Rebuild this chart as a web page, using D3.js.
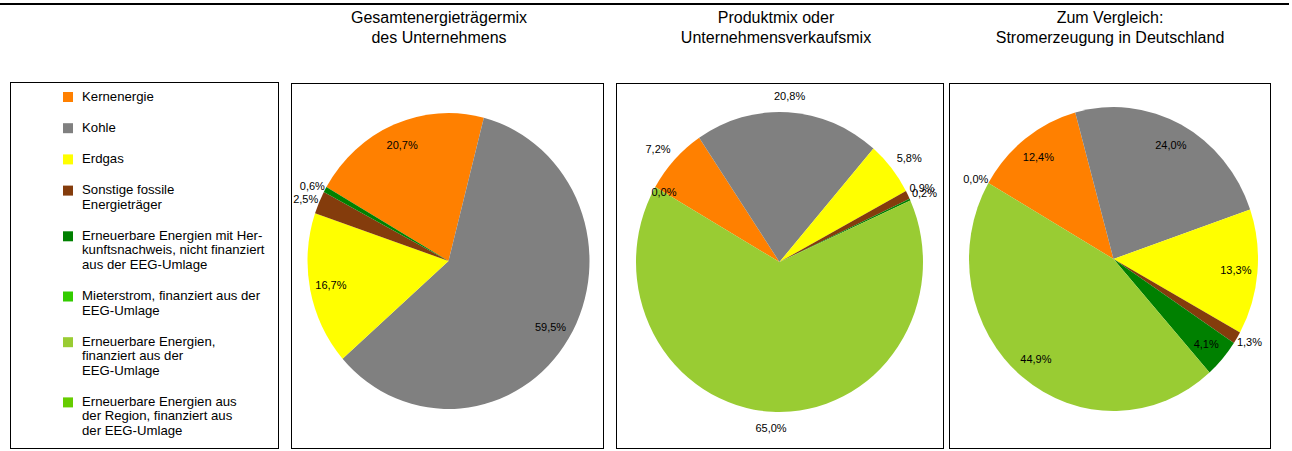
<!DOCTYPE html>
<html>
<head>
<meta charset="utf-8">
<script src="https://cdn.jsdelivr.net/npm/d3@7"></script>
<style>
  body { margin: 0; background: #fff; }
  svg { display: block; font-family: "Liberation Sans", Arial, sans-serif; }
</style>
</head>
<body>
<svg width="1292" height="451"></svg>
<script>
var categories = [
  "Kernenergie",
  "Kohle",
  "Erdgas",
  "Sonstige fossile Energieträger",
  "Erneuerbare Energien mit Herkunftsnachweis, nicht finanziert aus der EEG-Umlage",
  "Mieterstrom, finanziert aus der EEG-Umlage",
  "Erneuerbare Energien, finanziert aus der EEG-Umlage",
  "Erneuerbare Energien aus der Region, finanziert aus der EEG-Umlage"
];
var legendLines = [
  ["Kernenergie"],
  ["Kohle"],
  ["Erdgas"],
  ["Sonstige fossile", "Energieträger"],
  ["Erneuerbare Energien mit Her-", "kunftsnachweis, nicht finanziert", "aus der EEG-Umlage"],
  ["Mieterstrom, finanziert aus der", "EEG-Umlage"],
  ["Erneuerbare Energien,", "finanziert aus der", "EEG-Umlage"],
  ["Erneuerbare Energien aus", "der Region, finanziert aus", "der EEG-Umlage"]
];
var colors = ["#ff8000", "#808080", "#ffff00", "#843c0c", "#008000", "#33cc00", "#99cc33", "#66cc00"];

// values in percent, null = no entry
var gesamtValues = [20.7, 59.5, 16.7, 2.5, 0.6, null, null, null];
var produktValues = [7.2, 20.8, 5.8, 0.9, 0.2, null, 65.0, 0.0];
var deutschlandValues = [12.4, 24.0, 13.3, 1.3, 4.1, null, 44.9, 0.0];

var titles = [
  ["Gesamtenergieträgermix", "des Unternehmens"],
  ["Produktmix oder", "Unternehmensverkaufsmix"],
  ["Zum Vergleich:", "Stromerzeugung in Deutschland"]
];

var panels = [
  { values: gesamtValues, x0: 291, x1: 603, tx: 439, cx: 448.5, cy: 261, rx: 141, ry: 148, outside: false },
  { values: produktValues, x0: 616, x1: 943, tx: 776, cx: 779.5, cy: 262, rx: 143.5, ry: 150, outside: true },
  { values: deutschlandValues, x0: 949, x1: 1270, tx: 1110, cx: 1113.5, cy: 259, rx: 144.5, ry: 152, outside: false }
];

var svg = d3.select("svg");
var pct = d3.formatLocale({ decimal: ",", thousands: ".", grouping: [3], currency: ["", "€"] }).format(".1f");

// top rule
svg.append("line")
  .attr("x1", 0).attr("x2", 1289)
  .attr("y1", 4).attr("y2", 4)
  .attr("stroke", "#000")
  .attr("stroke-width", 2);

// legend
var lg = svg.append("g");
lg.append("rect")
  .attr("x", 10.5).attr("y", 82.5)
  .attr("width", 268).attr("height", 366)
  .attr("fill", "#fff")
  .attr("stroke", "#000");

var ly = 100.5;
legendLines.forEach(function (lines, i) {
  lg.append("rect")
    .attr("x", 63).attr("y", ly - 8.5)
    .attr("width", 10).attr("height", 10)
    .attr("fill", colors[i]);
  lines.forEach(function (t, j) {
    lg.append("text")
      .attr("x", 82)
      .attr("y", ly + j * 14.5)
      .style("font-size", "13.2px")
      .attr("fill", "#000")
      .text(t);
  });
  ly += (lines.length - 1) * 14.5 + 31.2;
});

var pie = d3.pie()
  .sort(null)
  .value(function (d) { return d.value; })
  .startAngle(-Math.PI / 3)
  .endAngle(-Math.PI / 3 + 2 * Math.PI);

panels.forEach(function (p, k) {
  var g = svg.append("g");

  g.selectAll(".title")
    .data(titles[k])
    .enter()
    .append("text")
    .attr("x", p.tx)
    .attr("y", function (d, i) { return 23 + i * 20; })
    .attr("text-anchor", "middle")
    .style("font-size", "16px")
    .attr("fill", "#000")
    .text(function (d) { return d; });

  g.append("rect")
    .attr("x", p.x0 + 0.5).attr("y", 83.5)
    .attr("width", p.x1 - p.x0).attr("height", 365)
    .attr("fill", "#fff")
    .attr("stroke", "#000");

  var data = p.values.map(function (v, i) {
    return { value: v === null ? 0 : v, label: v !== null, color: colors[i] };
  });
  var arcs = pie(data);
  var arc = d3.arc().innerRadius(0).outerRadius(p.rx);
  var k2 = p.ry / p.rx;

  g.append("g")
    .attr("transform", "translate(" + p.cx + "," + p.cy + ") scale(1," + k2 + ")")
    .selectAll("path")
    .data(arcs)
    .enter()
    .append("path")
    .attr("d", arc)
    .attr("fill", function (d) { return d.data.color; });

  g.selectAll(".lbl")
    .data(arcs.filter(function (d) { return d.data.label; }))
    .enter()
    .append("text")
    .attr("class", "lbl")
    .style("font-size", "11px")
    .attr("fill", "#000")
    .attr("text-anchor", "middle")
    .attr("dy", "0.35em")
    .text(function (d) { return pct(d.data.value) + "%"; })
    .each(function (d) {
      var a = (d.startAngle + d.endAngle) / 2;
      var s = Math.sin(a), c = Math.cos(a);
      var w = this.getComputedTextLength(), h = 11;
      var inside = !p.outside && d.data.value > 3;
      var x, y;
      if (inside) {
        x = p.cx + 0.85 * p.rx * s;
        y = p.cy - 0.85 * p.rx * k2 * c;
      } else if (p.outside && d.data.value === 0) {
        x = p.cx + 0.93 * p.rx * s;
        y = p.cy - 0.93 * p.rx * k2 * c;
      } else {
        var r = p.rx + (p.outside ? 10 : 2);
        x = p.cx + r * s + (w / 2) * s - (p.outside && s > 0.85 ? 6 : 0);
        y = p.cy - r * k2 * c - (h / 2) * c;
      }
      d3.select(this).attr("x", x).attr("y", y);
    });
});
</script>
</body>
</html>
